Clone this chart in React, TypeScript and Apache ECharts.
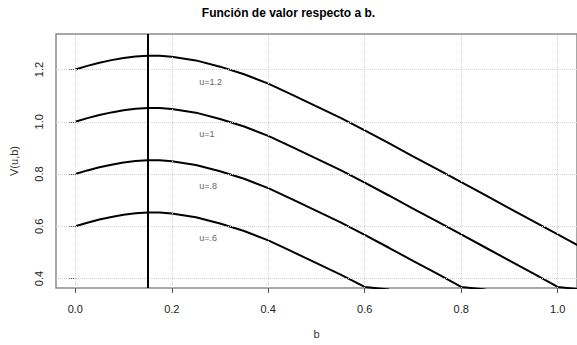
import React, { useEffect, useRef } from "react";
import * as echarts from "echarts";

const titleText = "Función de valor respecto a b.";
const xName = "b";
const yName = "V(u,b)";

const xTicks = [0, 0.2, 0.4, 0.6, 0.8, 1.0];
const yTicks = [0.4, 0.6, 0.8, 1.0, 1.2];
const xRange = [-0.04, 1.04];
const yRange = [0.364, 1.336];
const bLine = 0.15;

const bValues = [0, 0.025, 0.05, 0.075, 0.1, 0.125, 0.15, 0.175, 0.2, 0.25, 0.3, 0.35, 0.4, 0.45, 0.5, 0.55, 0.6, 0.65, 0.7, 0.75, 0.8, 0.85, 0.9, 0.95, 1.0, 1.05];

const vU12 = [1.2, 1.214, 1.226, 1.236, 1.244, 1.25, 1.253, 1.253, 1.249, 1.235, 1.211, 1.182, 1.146, 1.103, 1.059, 1.015, 0.967, 0.918, 0.868, 0.819, 0.769, 0.719, 0.669, 0.619, 0.569, 0.519];
const vU10 = [1.0, 1.014, 1.026, 1.036, 1.044, 1.05, 1.053, 1.053, 1.049, 1.035, 1.011, 0.982, 0.946, 0.903, 0.859, 0.815, 0.767, 0.718, 0.668, 0.619, 0.569, 0.519, 0.469, 0.419, 0.368, 0.358];
const vU08 = [0.8, 0.814, 0.826, 0.836, 0.844, 0.85, 0.853, 0.853, 0.849, 0.835, 0.811, 0.782, 0.746, 0.703, 0.659, 0.615, 0.567, 0.518, 0.468, 0.419, 0.368, 0.358, null, null, null, null];
const vU06 = [0.6, 0.614, 0.626, 0.636, 0.644, 0.65, 0.653, 0.653, 0.649, 0.635, 0.611, 0.582, 0.546, 0.503, 0.459, 0.415, 0.368, 0.358, null, null, null, null, null, null, null, null];

const curveNames = ["u=1.2", "u=1", "u=.8", "u=.6"];
const curveValues = [vU12, vU10, vU08, vU06];
const labelB = [0.256, 0.256, 0.256, 0.256];
const labelV = [1.152, 0.953, 0.755, 0.554];

const FONT = "'Liberation Sans', Arial, sans-serif";

export default function App() {
  const ref = useRef<HTMLDivElement>(null);
  useEffect(() => {
    if (!ref.current) return;
    const chart = echarts.init(ref.current, undefined, { renderer: "svg" });
    const curveSeries = curveValues.map((vals, i) => ({
      type: "line",
      name: curveNames[i],
      data: bValues.map((b, j) => [b, vals[j]]),
      showSymbol: false,
      symbol: "none",
      connectNulls: false,
      clip: true,
      lineStyle: { color: "#000", width: 2 },
      z: 3,
      silent: true,
    }));
    const option: any = {
      animation: false,
      title: {
        text: titleText,
        left: "center",
        top: 2,
        textStyle: { fontFamily: FONT, fontSize: 12, fontWeight: "bold", color: "#000" },
      },
      grid: {
        left: 55.8,
        top: 34,
        width: 525.6,
        height: 254,
        show: true,
        borderColor: "#8a8a8a",
        borderWidth: 1.5,
        backgroundColor: "transparent",
      },
      xAxis: {
        type: "value",
        min: xRange[0],
        max: xRange[1],
        name: xName,
        nameLocation: "middle",
        nameGap: 40,
        nameTextStyle: { fontFamily: FONT, fontSize: 11, color: "#333" },
        axisLine: { show: false },
        splitLine: { show: false },
        axisTick: {
          show: true,
          length: 5,
          customValues: xTicks,
          lineStyle: { color: "#555", width: 1 },
        },
        axisLabel: {
          customValues: xTicks,
          margin: 15,
          fontFamily: FONT,
          fontSize: 11,
          color: "#222",
          formatter: (v: number) => v.toFixed(1),
        },
      },
      yAxis: {
        type: "value",
        min: yRange[0],
        max: yRange[1],
        name: yName,
        nameLocation: "middle",
        nameGap: 37,
        nameTextStyle: { fontFamily: FONT, fontSize: 11, color: "#333" },
        axisLine: { show: false },
        splitLine: { show: false },
        axisTick: {
          show: true,
          length: 6,
          customValues: yTicks,
          lineStyle: { color: "#555", width: 1 },
        },
        axisLabel: {
          customValues: yTicks,
          rotate: 90,
          margin: 12,
          fontFamily: FONT,
          fontSize: 11,
          color: "#222",
          formatter: (v: number) => v.toFixed(1),
        },
      },
      series: [
        {
          type: "line",
          data: [],
          silent: true,
          z: 1,
          markLine: {
            silent: true,
            symbol: "none",
            label: { show: false },
            lineStyle: { color: "#d3d3d3", type: "dotted", width: 1 },
            data: [
              ...xTicks.map((v) => ({ xAxis: v })),
              ...yTicks.map((v) => ({ yAxis: v })),
            ],
          },
        },
        ...curveSeries,
        {
          type: "line",
          data: [],
          silent: true,
          z: 4,
          markLine: {
            silent: true,
            symbol: "none",
            label: { show: false },
            lineStyle: { color: "#000", type: "solid", width: 2 },
            data: [{ xAxis: bLine }],
          },
        },
        {
          type: "scatter",
          silent: true,
          symbolSize: 1,
          itemStyle: { color: "rgba(0,0,0,0)" },
          z: 5,
          data: labelB.map((b, i) => ({ value: [b, labelV[i]], name: curveNames[i] })),
          label: {
            show: true,
            position: "right",
            distance: 0,
            formatter: (p: any) => p.name,
            fontFamily: FONT,
            fontSize: 9,
            color: "#333",
          },
        },
      ],
    };
    chart.setOption(option);
    return () => chart.dispose();
  }, []);
  return (
    <div
      ref={ref}
      style={{ position: "absolute", left: 0, top: 0, width: 577, height: 345, background: "#fff" }}
    />
  );
}
